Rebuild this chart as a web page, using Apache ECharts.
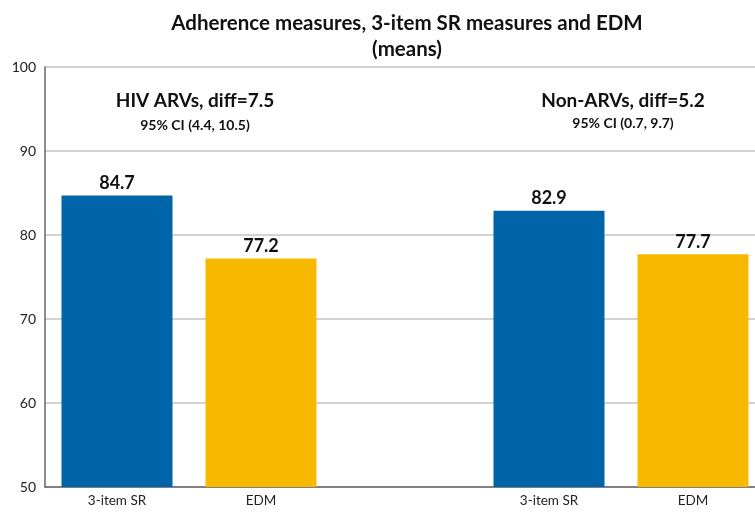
<!DOCTYPE html>
<html>
<head>
<meta charset="utf-8">
<script src="https://cdn.jsdelivr.net/npm/echarts@6/dist/echarts.min.js"></script>
<style>
html, body { margin: 0; padding: 0; background: #fff; }
#main { width: 755px; height: 513px; }
</style>
</head>
<body>
<div id="main"></div>
<script>
// categories, with an empty slot between the two groups
const categories = ['3-item SR', 'EDM', '', '3-item SR', 'EDM'];
const means = [84.7, 77.2, '-', 82.9, 77.7];
const barColors = ['#0064A8', '#F9B800', '#ffffff', '#0064A8', '#F9B800'];
const yTicks = [50, 60, 70, 80, 90, 100];

const fontFam = 'Lato, "Open Sans", sans-serif';

var myChart = echarts.init(document.getElementById('main'));
var option = {
	animation: false,
	title: {
		text: 'Adherence measures, 3-item SR measures and EDM\n(means)',
		left: 402,
		top: 5,
		textAlign: 'center',
		textStyle: {
			fontFamily: fontFam,
			fontWeight: 'bold',
			fontSize: 20.5,
			lineHeight: 26,
			color: '#111'
		}
	},
	grid: {
		left: 45,
		top: 67,
		width: 720,
		height: 420,
		outerBoundsMode: 'none',
		containLabel: false
	},
	xAxis: {
		type: 'category',
		data: categories,
		axisTick: { show: false },
		axisLine: { lineStyle: { color: '#666', width: 1.5 } },
		axisLabel: {
			fontFamily: fontFam,
			fontSize: 13.5,
			color: '#222',
			margin: 7
		}
	},
	yAxis: {
		type: 'value',
		min: yTicks[0],
		max: yTicks[yTicks.length - 1],
		interval: 10,
		axisLine: { show: true, lineStyle: { color: '#666', width: 1.5 } },
		axisTick: { show: false },
		splitLine: { lineStyle: { color: '#c4c4c4', width: 1.5 } },
		axisLabel: {
			fontFamily: fontFam,
			fontSize: 14,
			color: '#222',
			margin: 9
		}
	},
	series: [{
		type: 'bar',
		data: means,
		barWidth: 111,
		itemStyle: {
			color: function (p) { return barColors[p.dataIndex]; }
		},
		label: {
			show: true,
			position: 'top',
			distance: 3,
			fontFamily: fontFam,
			fontWeight: 'bold',
			fontSize: 18,
			color: '#111'
		}
	}],
	graphic: [
		{ type: 'text', x: 195, y: 101, style: { text: 'HIV ARVs, diff=7.5', align: 'center', verticalAlign: 'middle', font: 'bold 19px ' + fontFam, fill: '#111' } },
		{ type: 'text', x: 195, y: 125, style: { text: '95% CI (4.4, 10.5)', align: 'center', verticalAlign: 'middle', font: 'bold 14px ' + fontFam, fill: '#111' } },
		{ type: 'text', x: 623, y: 101, style: { text: 'Non-ARVs, diff=5.2', align: 'center', verticalAlign: 'middle', font: 'bold 19px ' + fontFam, fill: '#111' } },
		{ type: 'text', x: 623, y: 123, style: { text: '95% CI (0.7, 9.7)', align: 'center', verticalAlign: 'middle', font: 'bold 14px ' + fontFam, fill: '#111' } }
	]
};
myChart.setOption(option);
</script>
</body>
</html>
